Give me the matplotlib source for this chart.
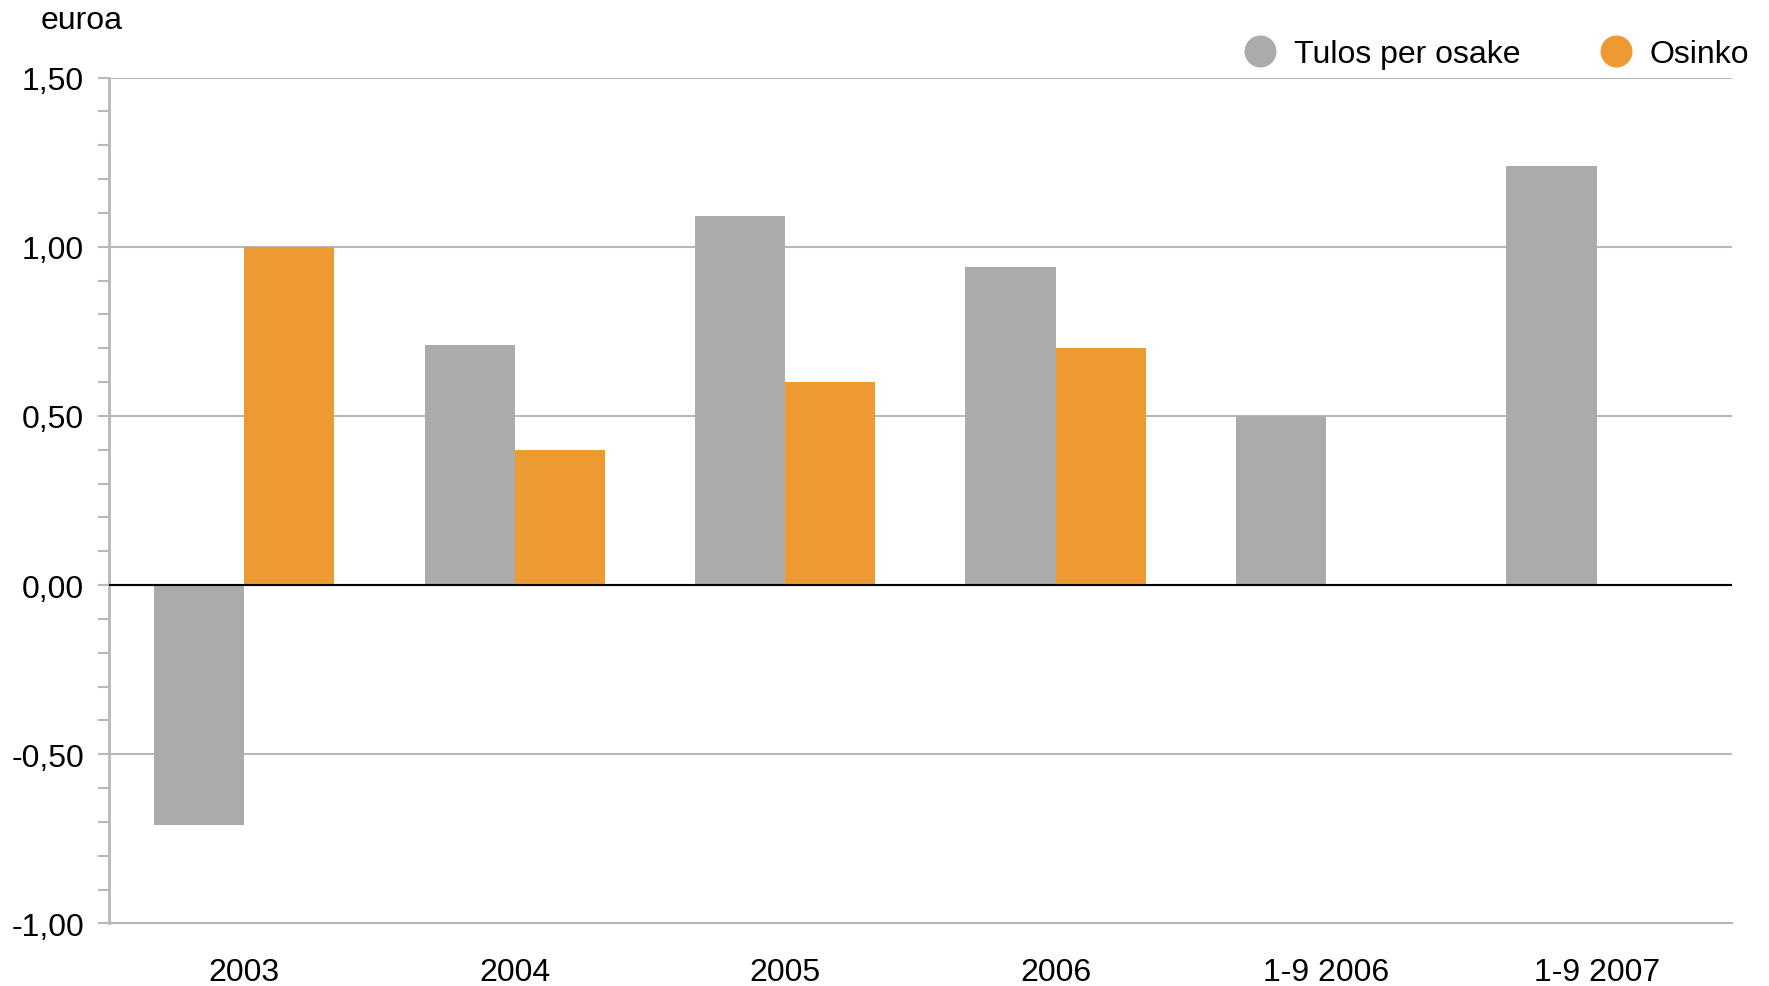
import numpy as np
import matplotlib.pyplot as plt
from matplotlib.ticker import MultipleLocator, FuncFormatter
from matplotlib.lines import Line2D

plt.rcParams['font.family'] = ['Liberation Sans', 'DejaVu Sans']

categories = ['2003', '2004', '2005', '2006', '1-9 2006', '1-9 2007']
eps = [-0.71, 0.71, 1.09, 0.94, 0.50, 1.24]
dividend = [1.00, 0.40, 0.60, 0.70, np.nan, np.nan]

gray = '#ababab'
orange = '#ee9a32'
gridc = '#b8b8b8'

fig = plt.figure(figsize=(17.69, 9.87), dpi=100)
ax = fig.add_axes([0.0616, 0.0634, 0.9174, 0.857])

x = np.arange(len(categories))
w = 1 / 3
ax.bar(x - w / 2, eps, w, color=gray, zorder=2)
ax.bar(x + w / 2, dividend, w, color=orange, zorder=2)

ax.set_xlim(-0.5, len(categories) - 0.5)
ax.set_ylim(-1.0, 1.5)
ax.yaxis.set_major_locator(MultipleLocator(0.5))
ax.yaxis.set_minor_locator(MultipleLocator(0.1))
ax.yaxis.set_major_formatter(FuncFormatter(lambda v, p: f'{v:.2f}'.replace('.', ',')))
ax.grid(axis='y', which='major', color=gridc, linewidth=1.5, zorder=0)
ax.axhline(0, color='black', linewidth=1.5, zorder=3)

for s in ['top', 'right']:
    ax.spines[s].set_visible(False)
ax.spines['left'].set_color(gridc)
ax.spines['left'].set_linewidth(2)
ax.spines['bottom'].set_color(gridc)
ax.spines['bottom'].set_linewidth(1.5)

ax.tick_params(axis='y', which='both', color=gridc, width=1.5, length=8,
               labelsize=23, pad=10)
ax.tick_params(axis='x', length=0, labelsize=23, pad=24)
ax.set_xticks(x)
ax.set_xticklabels(categories)

fig.text(0.023, 0.979, 'euroa', fontsize=23, va='center', ha='left')

handles = [
    Line2D([], [], marker='o', linestyle='none', markersize=22, color=gray),
    Line2D([], [], marker='o', linestyle='none', markersize=22, color=orange),
]
fig.legend(handles, ['Tulos per osake', 'Osinko'], loc='center right',
           bbox_to_anchor=(0.996, 0.944), ncol=2, frameon=False, fontsize=23,
           handletextpad=0.05, columnspacing=2.0, borderaxespad=0)

fig.savefig('out.png', dpi=100)
